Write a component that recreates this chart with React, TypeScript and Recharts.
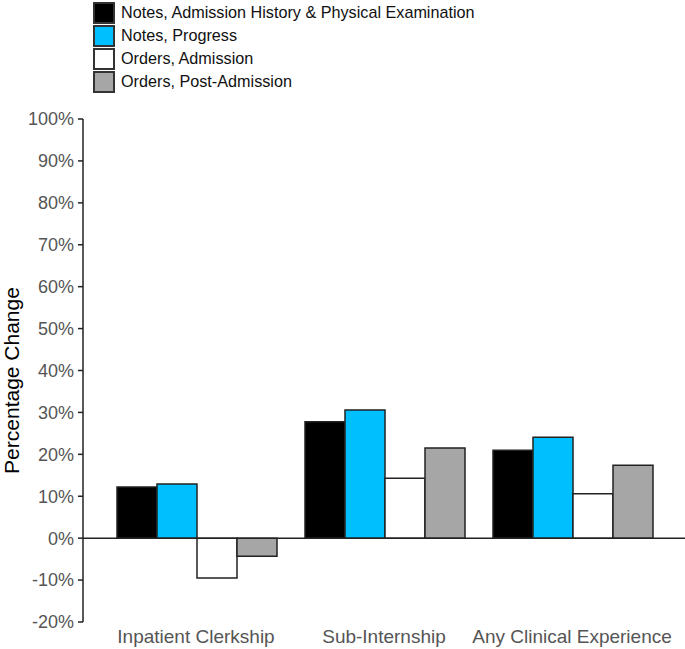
import { Bar, BarChart, ReferenceLine, XAxis, YAxis } from "recharts"

const categories = ["Inpatient Clerkship", "Sub-Internship", "Any Clinical Experience"]

const notesHP = [12.2, 27.8, 21.0]
const notesProgress = [12.9, 30.6, 24.1]
const ordersAdmission = [-9.5, 14.3, 10.6]
const ordersPostAdmission = [-4.3, 21.5, 17.4]

const yTicks = [-20, -10, 0, 10, 20, 30, 40, 50, 60, 70, 80, 90, 100]

const series = [
  { key: "notesHP", name: "Notes, Admission History & Physical Examination", color: "#000000" },
  { key: "notesProgress", name: "Notes, Progress", color: "#00bfff" },
  { key: "ordersAdmission", name: "Orders, Admission", color: "#ffffff" },
  { key: "ordersPostAdmission", name: "Orders, Post-Admission", color: "#a6a6a6" },
]

const data = categories.map((name, i) => ({
  name,
  notesHP: notesHP[i],
  notesProgress: notesProgress[i],
  ordersAdmission: ordersAdmission[i],
  ordersPostAdmission: ordersPostAdmission[i],
}))

const font = "'Liberation Sans', Arial, sans-serif"

// legend drawn as plain html so it doesn't push the plot down
function LegendBox() {
  return (
    <div style={{ position: "absolute", left: 93, top: 1, fontFamily: font }}>
      {series.map((s) => (
        <div key={s.key} style={{ display: "flex", alignItems: "center", height: 23 }}>
          <div
            style={{
              boxSizing: "border-box",
              width: 22,
              height: 22,
              background: s.color,
              border: "2px solid #333",
              marginRight: 6,
            }}
          />
          <span style={{ fontSize: 16.2, color: "#111" }}>{s.name}</span>
        </div>
      ))}
    </div>
  )
}

function AxisTitle(props: any) {
  const { viewBox } = props
  const x = 19
  const y = viewBox.y + viewBox.height / 2 + 10
  return (
    <text
      x={x}
      y={y}
      transform={`rotate(-90, ${x}, ${y})`}
      textAnchor="middle"
      fontSize={21}
      fill="#000"
      fontFamily={font}
    >
      Percentage Change
    </text>
  )
}

export default function App() {
  return (
    <div style={{ position: "absolute", left: 0, top: 0, width: 685, height: 649, background: "#fff" }}>
      <BarChart
        width={685}
        height={649}
        data={data}
        margin={{ top: 119, right: 0, left: 0, bottom: 0 }}
        barGap={0}
        barCategoryGap={15}
      >
        <XAxis
          dataKey="name"
          axisLine={false}
          tickLine={false}
          height={27}
          padding={{ left: 19, right: 19 }}
          tick={{ fontSize: 19, fill: "#555", fontFamily: font }}
          interval={0}
        />
        <YAxis
          width={83}
          domain={[-20, 100]}
          ticks={yTicks}
          interval={0}
          tickFormatter={(v) => `${v}%`}
          tick={{ fontSize: 18, fill: "#555", fontFamily: font }}
          tickSize={5}
          tickMargin={4}
          axisLine={{ stroke: "#222", strokeWidth: 1.5 }}
          tickLine={{ stroke: "#222", strokeWidth: 1.5 }}
          label={<AxisTitle />}
        />
        {series.map((s) => (
          <Bar
            key={s.key}
            dataKey={s.key}
            name={s.name}
            fill={s.color}
            stroke="#222"
            strokeWidth={1.5}
            isAnimationActive={false}
          />
        ))}
        <ReferenceLine y={0} stroke="#222" strokeWidth={1.5} />
      </BarChart>
      <LegendBox />
    </div>
  )
}
